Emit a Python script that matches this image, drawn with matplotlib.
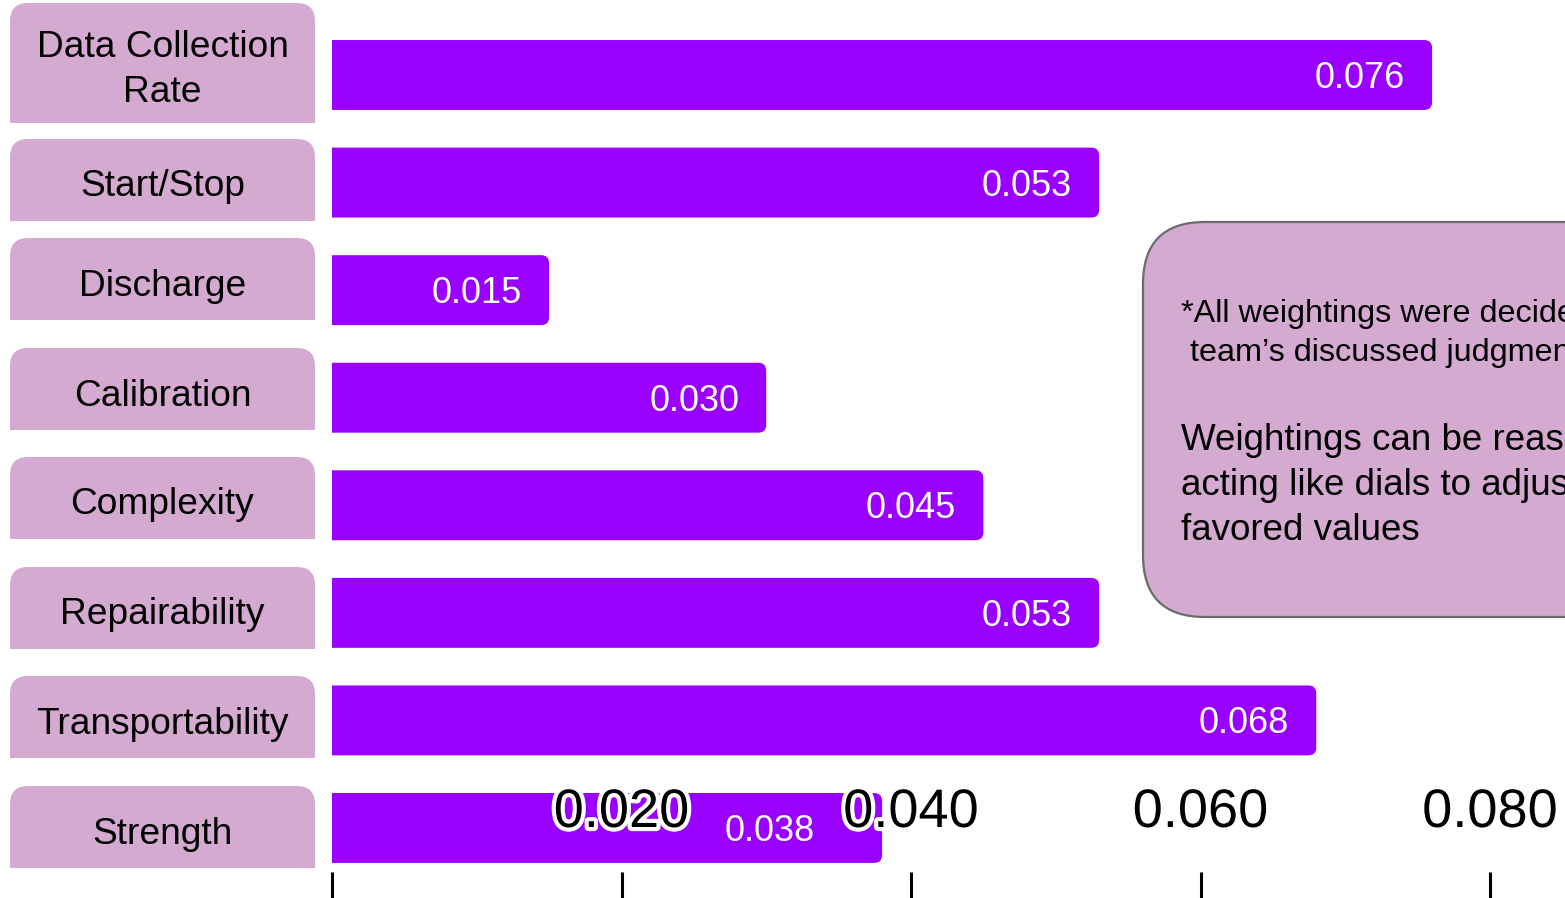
import matplotlib
matplotlib.use("Agg")
import matplotlib.pyplot as plt
import matplotlib.patheffects as pe
from matplotlib.patches import FancyBboxPatch, Rectangle

# ---- data -------------------------------------------------------------
categories = ["Data Collection\nRate", "Start/Stop", "Discharge", "Calibration",
              "Complexity", "Repairability", "Transportability", "Strength"]
weights = [0.076, 0.053, 0.015, 0.030, 0.045, 0.053, 0.068, 0.038]
tick_values = [0.0, 0.02, 0.04, 0.06, 0.08]
tick_labels = ["", "0.020", "0.040", "0.060", "0.080"]
note_lines_small = ["*All weightings were decided based on the",
                    " team\u2019s discussed judgment"]
note_lines_large = ["Weightings can be reassessed,",
                    "acting like dials to adjust for",
                    "favored values"]

# ---- style / layout ---------------------------------------------------
W, H, DPI = 1565, 898, 100
PURPLE = "#9900FF"
PINK = "#D5AAD0"
FONT = "Liberation Sans"
X0_PX = 332                    # pixel column of zero
X_SCALE = (1490 - 332) / 0.08  # pixels per unit weight
Y_SCALE = 107.57               # pixels per category row
ROW0_PX = 75                   # pixel row of the first bar centre
BAR_H = 0.65
PX = 0.72                      # points per pixel at 100 dpi

# label boxes (top, bottom) in pixels
label_boxes = [(3, 123), (139, 221), (238, 320), (348, 430),
               (457, 539), (567, 649), (676, 758), (786, 868)]
# right inset (pixels) of each value label inside its bar
label_insets = [27, 27, 27, 27, 27, 27, 27, 67]

plt.rcParams["font.family"] = [FONT, "DejaVu Sans"]

fig = plt.figure(figsize=(W / DPI, H / DPI), dpi=DPI)
fig.patch.set_facecolor("white")

# decoration layer in pixel coordinates
deco = fig.add_axes([0, 0, 1, 1])
deco.set_xlim(0, W)
deco.set_ylim(H, 0)
deco.axis("off")

for (top, bot), name in zip(label_boxes, categories):
    box = FancyBboxPatch((10, top), 305, bot - top + 40,
                         boxstyle="round,pad=0,rounding_size=18",
                         facecolor=PINK, edgecolor="none")
    deco.add_patch(box)
    box.set_clip_path(Rectangle((10, top), 305, bot - top,
                                transform=deco.transData))
    mid = (top + bot) / 2
    deco.text(162.5, mid + 7, name, ha="center", va="center",
              multialignment="center", fontsize=26.7, linespacing=1.36,
              color="black")

# note box on the right
deco.add_patch(FancyBboxPatch((1143, 222), 700, 395,
                              boxstyle="round,pad=0,rounding_size=62",
                              facecolor=PINK, edgecolor="#6B6B6B", lw=1.6))
for i, line in enumerate(note_lines_small):
    deco.text(1181, 322 + i * 38.5, line, ha="left", va="baseline",
              fontsize=23.3, color="black")
for i, line in enumerate(note_lines_large):
    deco.text(1181, 450 + i * 44.8, line, ha="left", va="baseline",
              fontsize=26.5, color="black")

# ---- bar axes ---------------------------------------------------------
ax = fig.add_axes([X0_PX / W, 0, 1 - X0_PX / W, 1])
ax.patch.set_alpha(0)
ax.set_xlim(0, (W - X0_PX) / X_SCALE)
n = len(weights)
ax.set_ylim(n - 1 + (H - (ROW0_PX + (n - 1) * Y_SCALE)) / Y_SCALE,
            -ROW0_PX / Y_SCALE)
for s in ax.spines.values():
    s.set_visible(False)

bars = ax.barh(range(n), weights, height=BAR_H, color=PURPLE)
r = 8 / X_SCALE
aspect = X_SCALE / Y_SCALE
for bar, val, inset in zip(bars, weights, label_insets):
    x, y, w, h = bar.get_x(), bar.get_y(), bar.get_width(), bar.get_height()
    bar.set_visible(False)
    # rounded right end; the left end runs past zero and is clipped square
    ax.add_patch(FancyBboxPatch((x - 4 * r, y), w + 4 * r, h,
                                boxstyle=f"round,pad=0,rounding_size={r}",
                                mutation_aspect=aspect,
                                facecolor=PURPLE, edgecolor="none", zorder=1))
    ax.annotate(f"{val:.3f}", xy=(w, y + h / 2),
                xytext=(-inset * PX, -13 * PX), textcoords="offset points",
                ha="right", va="baseline", color="white", fontsize=26,
                zorder=4)

ax.set_yticks([])
ax.set_xticks(tick_values)
ax.set_xticklabels([])
ax.tick_params(axis="x", direction="in", length=26 * PX, width=2.2,
               color="black", bottom=True)
for tv, tl in zip(tick_values, tick_labels):
    ax.text(tv, (H - 827) / H, tl, transform=ax.get_xaxis_transform(),
            ha="center", va="baseline", fontsize=39, color="black", zorder=3,
            path_effects=[pe.withStroke(linewidth=6, foreground="white")])

fig.savefig("out.png", dpi=DPI)
